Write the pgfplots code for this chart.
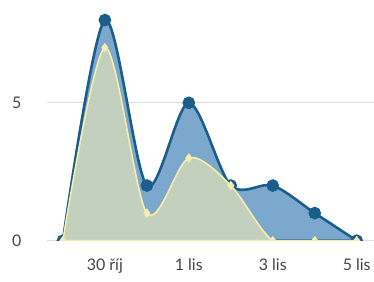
\documentclass[border=0pt]{standalone}
\usepackage{pgfplots}
\pgfplotsset{compat=1.18}
\usepackage{fontspec}
\setmainfont{Lato}
\definecolor{bline}{HTML}{1B5E8C}
\definecolor{bfill}{HTML}{7BA8CC}
\definecolor{yline}{HTML}{F5EDAE}
\definecolor{yfill}{HTML}{C4D0BE}
\definecolor{gridc}{HTML}{DDDDDD}
\definecolor{txt}{HTML}{444444}
\begin{document}
\begin{tikzpicture}
\begin{axis}[
  scale only axis, width=327pt, height=238pt,
  xmin=-0.38, xmax=7.4, ymin=0, ymax=8.62,
  axis line style={draw=none},
  major tick length=0pt,
  xtick={1,3,5,7}, xticklabels={30 říj,1 lis,3 lis,5 lis},
  ytick={0,5},
  ymajorgrids, grid style={gridc, line width=0.8pt},
  tick label style={font=\fontsize{16}{18}\selectfont, text=txt},
  /pgf/number format/assume math mode=true,
  yticklabel style={xshift=-22pt},
  xticklabel style={yshift=-15pt},
  clip=true, clip marker paths=true,
]
\addplot[smooth, tension=0.5, bline, line width=2.6pt, fill=bfill, mark=*, mark size=5pt, mark options={fill=bline, draw=bline}]
  coordinates {(0,0) (1,8) (2,2) (3,5) (4,2) (5,2) (6,1) (7,0)} \closedcycle;
\addplot[smooth, tension=0.5, yline, line width=1.6pt, fill=yfill, mark=diamond*, mark size=3.5pt, mark options={fill=yline, draw=yline}]
  coordinates {(0,0) (1,7) (2,1) (3,3) (4,2) (5,0) (6,0) (7,0)} \closedcycle;
\end{axis}
\path (current axis.south west)++(-47pt,-41pt) coordinate (bl);
\path (current axis.north east)++(0pt,3pt) coordinate (tr);
\useasboundingbox (bl) rectangle (tr);
\end{tikzpicture}
\end{document}
